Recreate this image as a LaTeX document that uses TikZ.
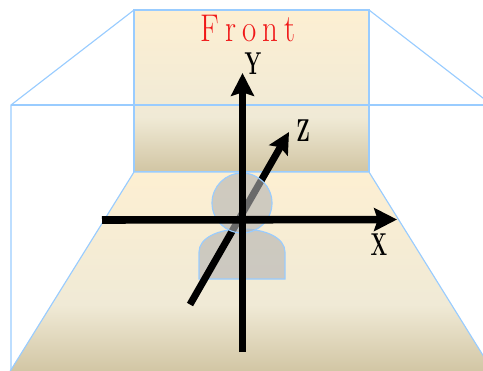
\documentclass[tikz,border=0pt]{standalone}
\usepackage{tikz}
\usetikzlibrary{arrows.meta}
\definecolor{edgeblue}{RGB}{153,204,255}
\definecolor{fadetop}{RGB}{253,239,210}
\definecolor{fademid}{RGB}{240,234,214}
\definecolor{fadebot}{RGB}{209,197,163}
\definecolor{persongray}{RGB}{178,178,178}
\definecolor{frontred}{RGB}{240,24,24}
\pgfdeclareverticalshading{wallfade}{100bp}{color(0bp)=(fadebot); color(25bp)=(fadebot); color(42bp)=(fademid); color(75bp)=(fadetop); color(100bp)=(fadetop)}
\tikzset{
    edgeline/.style={draw=edgeblue, line width=0.65pt},
    wallface/.style={edgeline, shade, shading=wallfade},
    personface/.style={edgeline, fill=persongray, fill opacity=0.6},
    axisbig/.style={line width=4.3pt, -{Stealth[length=13pt,width=13pt,inset=2pt]}},
    axissmall/.style={line width=4pt, -{Stealth[length=12pt,width=12pt,inset=2pt]}},
    axislabel/.style={inner sep=0pt, font=\fontsize{18}{18}\selectfont\bfseries, xscale=0.62},
    frontlabel/.style={inner sep=0pt, text=frontred, font=\fontsize{22}{22}\selectfont, xscale=0.8},
}
\begin{document}
\begin{tikzpicture}[x=0.02cm, y=-0.02cm]
    \useasboundingbox (0,0) rectangle (483,370);
    \path[wallface] (134,10) rectangle (369,172);
    \path[wallface] (134,172) -- (369,172) -- (494,373) -- (9,373) -- cycle;
    \draw[edgeline] (11,370) -- (11,105) -- (134,10);
    \draw[edgeline] (369,10) -- (492,105);
    \draw[edgeline] (11,105) -- (492,105);

    \path[personface] (199,279) -- (199,252) .. controls (199,238) and (218,229) .. (242,229) .. controls (266,229) and (285,238) .. (285,252) -- (285,279) -- cycle;
    \coordinate (zstart) at (190,304.5);
    \coordinate (zend) at (289,132);
    \draw[axissmall] (zstart) -- (zend);
    \path[personface] (242,203) circle (30);

    \coordinate (ystart) at (242.5,352);
    \coordinate (yend) at (242.5,73);
    \coordinate (xstart) at (102,220);
    \coordinate (xend) at (397,219.5);
    \draw[axisbig] (ystart) -- (yend);
    \draw[axisbig] (xstart) -- (xend);

    \node[axislabel] (ylabel) at (253,64) {Y};
    \node[axislabel] (zlabel) at (303,131) {Z};
    \node[axislabel] (xlabel) at (379,245) {X};
    \node[frontlabel] (fronttext) at (248,28) {\spaceskip=4.5pt F r o n t};
\end{tikzpicture}
\end{document}
